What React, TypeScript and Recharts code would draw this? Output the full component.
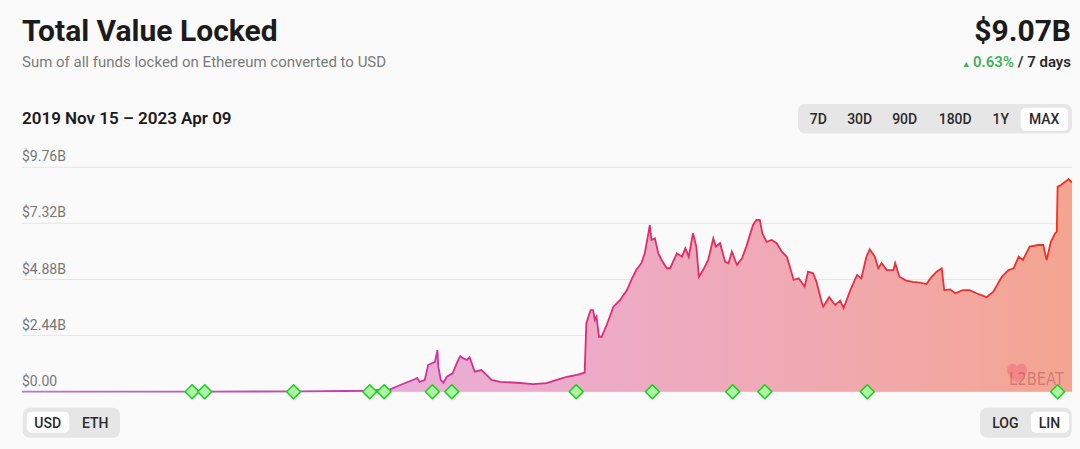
import React from 'react';
import { ComposedChart, Area, Scatter, XAxis, YAxis, CartesianGrid } from 'recharts';

// Days since 2019 Nov 15
const days = [
  0, 92, 199, 329, 379, 403, 435, 447, 464, 467, 470, 476, 480, 485, 488, 491, 492, 495, 498, 502,
  509, 514, 518, 521, 526, 529, 533, 535, 543, 549, 555, 565, 585, 604, 620, 632, 644, 656, 665, 667,
  672, 675, 677, 679, 682, 685, 691, 699, 707, 715, 721, 726, 732, 736, 740, 742, 744, 748, 752, 756,
  762, 766, 774, 780, 784, 788, 793, 797, 800, 805, 811, 817, 820, 825, 831, 835, 839, 845, 851, 856,
  864, 868, 872, 875, 880, 886, 892, 898, 904, 908, 912, 918, 925, 929, 935, 939, 945, 947, 954, 961,
  967, 971, 979, 987, 992, 998, 1002, 1008, 1012, 1016, 1022, 1030, 1032, 1037, 1045, 1053, 1061, 1069, 1075, 1081,
  1087, 1090, 1097, 1103, 1112, 1120, 1128, 1140, 1148, 1158, 1166, 1172, 1178, 1183, 1191, 1201, 1207, 1211, 1216, 1221,
  1223, 1224, 1228, 1233, 1237, 1241,
];

// Total value locked, billions of USD
const tvlBillions = [
  0.002, 0.004, 0.006, 0.01, 0.03, 0.04, 0.10, 0.29, 0.54, 0.60, 0.43, 0.51, 1.16, 1.25, 1.29, 1.81, 1.09, 0.51, 0.39, 0.65,
  0.80, 1.25, 1.55, 1.46, 1.38, 1.50, 1.09, 0.87, 0.94, 0.73, 0.51, 0.43, 0.39, 0.33, 0.37, 0.51, 0.65, 0.73, 0.83, 2.98,
  3.55, 3.55, 3.12, 3.26, 2.39, 2.39, 2.90, 3.70, 3.99, 4.42, 4.93, 5.29, 5.59, 6.02, 6.82, 7.25, 6.60, 6.67, 6.02, 5.73,
  5.37, 5.37, 6.02, 5.87, 6.24, 5.87, 6.89, 6.31, 5.00, 5.29, 5.73, 6.67, 6.31, 6.46, 5.65, 5.59, 6.09, 5.51, 5.80, 6.31,
  7.25, 7.47, 7.47, 6.89, 6.52, 6.60, 6.46, 6.09, 5.87, 5.37, 4.86, 4.93, 4.57, 5.22, 5.15, 4.78, 3.91, 3.70, 4.11, 3.77,
  3.96, 3.63, 4.42, 5.08, 4.93, 5.87, 6.19, 5.87, 5.37, 5.59, 5.29, 5.29, 5.59, 5.00, 4.83, 4.78, 4.74, 4.68, 5.00, 5.22,
  5.37, 4.42, 4.45, 4.28, 4.42, 4.42, 4.28, 4.11, 4.35, 5.00, 5.29, 5.37, 5.87, 5.73, 6.31, 6.38, 6.38, 5.73, 6.52, 6.89,
  6.96, 8.92, 8.99, 9.13, 9.24, 9.10,
];

// Milestone markers (days since start)
const eventDays = [201, 216, 321, 411, 428, 485, 508, 655, 745, 840, 878, 999, 1224];

const yTicks = [0, 2.44, 4.88, 7.32, 9.76];
const rangeButtons = ['7D', '30D', '90D', '180D', '1Y', 'MAX'];
const currencyButtons = ['USD', 'ETH'];
const scaleButtons = ['LOG', 'LIN'];

const rows = days.map((d, i) => ({ day: d, tvl: tvlBillions[i] }));
const events = eventDays.map((d) => ({ day: d, tvl: 0 }));

const FONT = 'Roboto, "Noto Sans", sans-serif';

const formatTick = (v: number) => (v === 0 ? '$0.00' : `$${v.toFixed(2)}B`);

const renderYTick = (props: any) => (
  <text
    key={`yt-${props.payload.value}`}
    x={0}
    y={props.y - 6}
    textAnchor="start"
    fontSize={14}
    fill="#777"
    fontFamily={FONT}
  >
    {formatTick(Number(props.payload.value))}
  </text>
);

const Diamond = (props: any) => {
  const { cx, cy } = props;
  if (cx == null || cy == null) return null;
  const r = 7;
  return (
    <polygon
      points={`${cx},${cy - r} ${cx + r},${cy} ${cx},${cy + r} ${cx - r},${cy}`}
      fill="#adf5a4"
      stroke="#1ccf1c"
      strokeWidth={1.6}
      strokeLinejoin="round"
    />
  );
};

const rangeCenters = [818.3, 859.7, 904.7, 955.2, 1000.8, 1044.2];

export default function App() {
  return (
    <div
      style={{
        position: 'fixed',
        left: 0,
        top: 0,
        width: 1080,
        height: 449,
        background: '#fafafa',
        fontFamily: FONT,
        overflow: 'hidden',
      }}
    >
      <svg width={1080} height={449} style={{ position: 'absolute', left: 0, top: 0 }} fontFamily={FONT}>
        <text x={22} y={40.5} fontSize={30} fontWeight={700} fill="#1b1b1b">
          Total Value Locked
        </text>
        <text x={22} y={67} fontSize={15} fill="#7a7a7a">
          Sum of all funds locked on Ethereum converted to USD
        </text>
        <text x={1071} y={40.5} fontSize={30} fontWeight={700} fill="#1b1b1b" textAnchor="end">
          $9.07B
        </text>
        <text x={1071} y={67} fontSize={15} fontWeight={600} textAnchor="end">
          <tspan fill="#43b058" fontSize={9}>▲ </tspan>
          <tspan fill="#43b058">0.63%</tspan>
          <tspan fill="#2a2a2a"> / 7 days</tspan>
        </text>

        <text x={22} y={124} fontSize={17} fontWeight={600} fill="#1b1b1b">
          2019 Nov 15 – 2023 Apr 09
        </text>

        <rect x={798} y={104} width={274} height={29.5} rx={7} fill="#e6e6e6" />
        <rect x={1020.7} y={107.7} width={47.6} height={23.3} rx={5} fill="#ffffff" />
        {rangeButtons.map((b, i) => (
          <text key={b} x={rangeCenters[i]} y={123.5} fontSize={14} fontWeight={500} fill="#2a2a2a" textAnchor="middle">
            {b}
          </text>
        ))}

        <rect x={22.7} y={407.7} width={97.3} height={30} rx={7} fill="#e6e6e6" />
        <rect x={26.7} y={411.7} width={42.6} height={21} rx={5} fill="#ffffff" />
        {currencyButtons.map((b, i) => (
          <text key={b} x={[47.7, 95.2][i]} y={427.5} fontSize={14} fontWeight={500} fill="#2a2a2a" textAnchor="middle">
            {b}
          </text>
        ))}

        <rect x={980} y={407.7} width={91.7} height={30} rx={7} fill="#e6e6e6" />
        <rect x={1031} y={411.7} width={38} height={21} rx={5} fill="#ffffff" />
        {scaleButtons.map((b, i) => (
          <text key={b} x={[1005.3, 1049.5][i]} y={427.5} fontSize={14} fontWeight={500} fill="#2a2a2a" textAnchor="middle">
            {b}
          </text>
        ))}
      </svg>

      <div style={{ position: 'absolute', left: 22, top: 138 }}>
        <ComposedChart width={1050} height={266} data={rows} margin={{ top: 29.3, right: 0, bottom: 12.3, left: 0 }}>
          <defs>
            <linearGradient id="lineGrad" x1="0" y1="0" x2="1" y2="0">
              <stop offset="0%" stopColor="#b07ad8" />
              <stop offset="33%" stopColor="#c73aa8" />
              <stop offset="50%" stopColor="#dd2a85" />
              <stop offset="75%" stopColor="#e62e4e" />
              <stop offset="100%" stopColor="#f2321c" />
            </linearGradient>
            <linearGradient id="fillGrad" x1="0" y1="0" x2="1" y2="0">
              <stop offset="0%" stopColor="#dcb6ea" />
              <stop offset="33%" stopColor="#e8aed8" />
              <stop offset="50%" stopColor="#ecabcb" />
              <stop offset="75%" stopColor="#f0a9b2" />
              <stop offset="100%" stopColor="#f4a590" />
            </linearGradient>
          </defs>
          <XAxis dataKey="day" type="number" domain={[0, 1241]} hide />
          <YAxis
            type="number"
            domain={[0, 9.76]}
            ticks={yTicks}
            mirror
            width={60}
            axisLine={false}
            tickLine={false}
            tick={renderYTick}
            interval={0}
          />
          <Area
            type="linear"
            dataKey="tvl"
            stroke="url(#lineGrad)"
            strokeWidth={1.8}
            fill="url(#fillGrad)"
            fillOpacity={1}
            dot={false}
            activeDot={false}
            isAnimationActive={false}
          />
          <CartesianGrid vertical={false} stroke="rgba(0,0,0,0.08)" strokeWidth={1} />
          <Scatter data={events} dataKey="tvl" shape={Diamond} isAnimationActive={false} />
        </ComposedChart>
      </div>

      <svg width={76} height={40} style={{ position: 'absolute', left: 1000, top: 354 }}>
        <path
          d="M17 29 C 8 22, 5 17, 8 12 C 11 8, 16 9, 17 13 C 18 9, 23 8, 26 12 C 29 17, 26 22, 17 29 Z"
          fill="rgba(240, 110, 125, 0.55)"
        />
        <text
          x={9}
          y={31}
          fontSize={17}
          fontFamily='"DejaVu Sans Condensed", "Liberation Sans Narrow", sans-serif'
          fill="rgba(150, 50, 60, 0.38)"
          textLength={55}
          lengthAdjust="spacingAndGlyphs"
        >
          L2BEAT
        </text>
      </svg>
    </div>
  );
}
